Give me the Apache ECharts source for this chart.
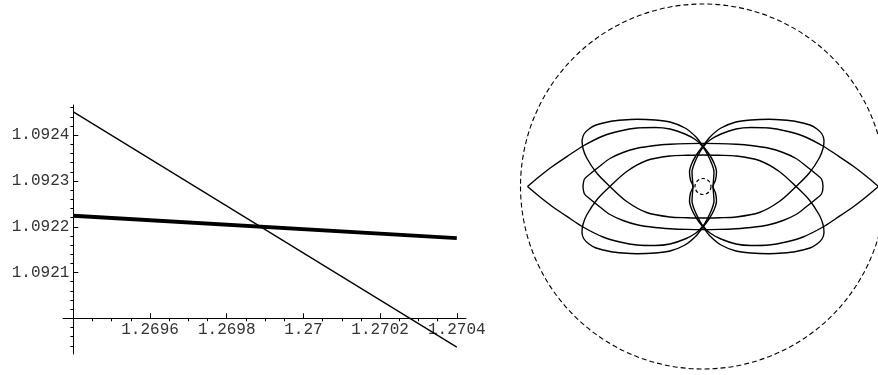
<!DOCTYPE html>
<html>
<head>
<meta charset="utf-8">
<script src="https://cdn.jsdelivr.net/npm/echarts@6/dist/echarts.min.js"></script>
<style>
html,body{margin:0;padding:0;background:#fff;}
#main{width:878px;height:375px;}
</style>
</head>
<body>
<div id="main"></div>
<script>
// left plot: two lines, axes cross at (xOrigin, yOrigin)
var xOrigin = 1.2694;
var yOrigin = 1.0920;
var lineX = [1.2694, 1.2704];
var thinY = [1.092451, 1.091937];
var thickY = [1.092224, 1.092175];

var xTickValues = [1.2696, 1.2698, 1.2700, 1.2702, 1.2704];
var xTickLabels = ['1.2696', '1.2698', '1.27', '1.2702', '1.2704'];
var xMinorValues = [1.26945, 1.2695, 1.26955, 1.26965, 1.2697, 1.26975, 1.26985, 1.2699, 1.26995,
	1.27005, 1.2701, 1.27015, 1.27025, 1.2703, 1.27035];
var yTickValues = [1.0921, 1.0922, 1.0923, 1.0924];
var yTickLabels = ['1.0921', '1.0922', '1.0923', '1.0924'];
var yMinorValues = [1.09194, 1.09196, 1.09198, 1.09202, 1.09204, 1.09206, 1.09208, 1.09212, 1.09214,
	1.09216, 1.09218, 1.09222, 1.09224, 1.09226, 1.09228, 1.09232, 1.09234, 1.09236, 1.09238,
	1.09242, 1.09244, 1.09246];

// right plot: curves, pixels from the centre, y up
var curveA = [[-121,46],[-119,52.5],[-114,57.5],[-107,61.5],[-93,65],[-80,66.5],[-66,67.2],[-48,66.5],[-33,64.5],[-18,58.5],[-7,49.5],[0,40.5],
	[6,32.5],[11,23.5],[13.5,14.5],[12.5,6.5],[10,0],[12.5,-6.5],[13.5,-14.5],[11,-23.5],[6,-32.5],[0,-40.5],
	[-7,-49.5],[-18,-58.5],[-33,-64.5],[-48,-66.5],[-66,-67.2],[-80,-66.5],[-93,-65],[-107,-61.5],[-114,-57.5],[-119,-52.5],[-121,-46],[-120,-38],
	[-116.3,-28.5],[-106.3,-13.5],[-93,0],[-76.3,15],[-56.3,26],[-33,30.5],[-16,31.2],[0,31.5],[16,31.2],[33,30.5],[56.3,26],[76.3,15],[93,0],[106.3,-13.5],[116.3,-28.5],[120,-38],[121,-46],
	[119,-52.5],[114,-57.5],[107,-61.5],[93,-65],[80,-66.5],[66,-67.2],[48,-66.5],[33,-64.5],[18,-58.5],[7,-49.5],[0,-40.5],
	[-6,-32.5],[-11,-23.5],[-13.5,-14.5],[-12.5,-6.5],[-10,0],[-12.5,6.5],[-13.5,14.5],[-11,23.5],[-6,32.5],[0,40.5],
	[7,49.5],[18,58.5],[33,64.5],[48,66.5],[66,67.2],[80,66.5],[93,65],[107,61.5],[114,57.5],[119,52.5],[121,46],[120,38],
	[116.3,28.5],[106.3,13.5],[93,0],[76.3,-15],[56.3,-26],[33,-30.5],[16,-31.2],[0,-31.5],[-16,-31.2],[-33,-30.5],[-56.3,-26],[-76.3,-15],[-93,0],[-106.3,13.5],[-116.3,28.5],[-120,38],[-121,46]];

var lensLeft = [[-175.5,0],[-163,10.5],[-150,20.5],[-133,32],[-120,40.5],[-100,50.5],[-83,55.5],[-66,58.5],[-48,59],[-33,57.5],[-18,52.5],[-7,46.5],[0,39.5],
	[4.5,32],[8.5,23.5],[11,14.5],[10.5,6.5],[10,0],[10.5,-6.5],[11,-14.5],[8.5,-23.5],[4.5,-32],[0,-39.5],
	[-7,-46.5],[-18,-52.5],[-33,-57.5],[-48,-59],[-66,-58.5],[-83,-55.5],[-100,-50.5],[-120,-40.5],[-133,-32],[-150,-20.5],[-163,-10.5],[-175.5,0]];

var lensRight = [[175.5,0],[163,10.5],[150,20.5],[133,32],[120,40.5],[100,50.5],[83,55.5],[66,58.5],[48,59],[33,57.5],[18,52.5],[7,46.5],[0,39.5],
	[-4.5,32],[-8.5,23.5],[-11,14.5],[-10.5,6.5],[-10,0],[-10.5,-6.5],[-11,-14.5],[-8.5,-23.5],[-4.5,-32],[0,-39.5],
	[7,-46.5],[18,-52.5],[33,-57.5],[48,-59],[66,-58.5],[83,-55.5],[100,-50.5],[120,-40.5],[133,-32],[150,-20.5],[163,-10.5],[175.5,0]];

var middleLoop = [[-120,0],[-118.5,7.5],[-113,12.5],[-103,20.5],[-93,28],[-80,34],[-66,38.2],[-48,41],[-33,42.2],[-16,42.9],[0,43.1],
	[16,42.9],[33,42.2],[48,41],[66,38.2],[80,34],[93,28],[103,20.5],[113,12.5],[118.5,7.5],[120,0],
	[118.5,-7.5],[113,-12.5],[103,-20.5],[93,-28],[80,-34],[66,-38.2],[48,-41],[33,-42.2],[16,-42.9],[0,-43.1],
	[-16,-42.9],[-33,-42.2],[-48,-41],[-66,-38.2],[-80,-34],[-93,-28],[-103,-20.5],[-113,-12.5],[-118.5,-7.5],[-120,0]];

var outerRadius = 182.5;
var innerRadius = 8;

// shift to units of 1e-4 from the crossing point so the axes can sit on zero
function sx(v){ return Math.round((v - xOrigin) * 1e4 * 1e6) / 1e6; }
function sy(v){ return Math.round((v - yOrigin) * 1e4 * 1e6) / 1e6; }
function pick(vals, labels, conv){
	return function(v){
		for(var i = 0; i < vals.length; i++){
			if(Math.abs(conv(vals[i]) - v) < 1e-4){ return labels[i]; }
		}
		return '';
	};
}

var black = '#000';
var labelFont = {fontFamily:'Liberation Mono', fontSize:16, color:'#333'};
var XMIN = -0.27, XMAX = 10.24, YMIN = -0.78, YMAX = 4.66;

var chart = echarts.init(document.getElementById('main'));
var option = {
	animation:false,
	backgroundColor:'#fff',
	grid:[
		{left:63, right:412, top:105, bottom:21, outerBoundsMode:'none'},
		{left:520, top:4, width:358, height:365, outerBoundsMode:'none'}
	],
	polar:[
		{center:[703, 186.5], radius:outerRadius},
		{center:[703, 186.5], radius:innerRadius}
	],
	angleAxis:[
		{polarIndex:0, axisLine:{lineStyle:{color:black, width:1.1, type:[5,3]}}, axisTick:{show:false}, axisLabel:{show:false}, splitLine:{show:false}},
		{polarIndex:1, axisLine:{lineStyle:{color:black, width:1.2, type:[3.5,2.5]}}, axisTick:{show:false}, axisLabel:{show:false}, splitLine:{show:false}}
	],
	radiusAxis:[
		{polarIndex:0, show:false},
		{polarIndex:1, show:false}
	],
	xAxis:[
		{
			type:'value', gridIndex:0, min:XMIN, max:XMAX,
			axisLine:{onZero:true, onZeroAxisIndex:0, lineStyle:{color:black, width:1}},
			axisTick:{inside:true, length:5, customValues:xTickValues.map(sx), lineStyle:{color:black}},
			axisLabel:{show:false},
			splitLine:{show:false}
		},
		{
			type:'value', gridIndex:0, min:XMIN, max:XMAX,
			axisLine:{show:false, onZero:true, onZeroAxisIndex:0},
			axisTick:{inside:true, length:3, customValues:xMinorValues.map(sx), lineStyle:{color:black}},
			axisLabel:{show:false},
			splitLine:{show:false}
		},
		{
			// labels only, moved up onto the crossing axis
			type:'value', gridIndex:0, min:XMIN, max:XMAX, position:'bottom', offset:-35.7,
			axisLine:{show:false, onZero:false},
			axisTick:{show:false},
			axisLabel:{customValues:xTickValues.map(sx), margin:3, formatter:pick(xTickValues, xTickLabels, sx),
				fontFamily:labelFont.fontFamily, fontSize:labelFont.fontSize, color:labelFont.color},
			splitLine:{show:false}
		},
		{type:'value', gridIndex:1, min:-183, max:175, show:false}
	],
	yAxis:[
		{
			type:'value', gridIndex:0, min:YMIN, max:YMAX,
			axisLine:{onZero:true, onZeroAxisIndex:0, lineStyle:{color:black, width:1}},
			axisTick:{inside:true, length:5, customValues:yTickValues.map(sy), lineStyle:{color:black}},
			axisLabel:{show:false},
			splitLine:{show:false}
		},
		{
			type:'value', gridIndex:0, min:YMIN, max:YMAX,
			axisLine:{show:false, onZero:true, onZeroAxisIndex:0},
			axisTick:{inside:true, length:3, customValues:yMinorValues.map(sy), lineStyle:{color:black}},
			axisLabel:{show:false},
			splitLine:{show:false}
		},
		{
			type:'value', gridIndex:0, min:YMIN, max:YMAX, position:'left', offset:-10.35,
			axisLine:{show:false, onZero:false},
			axisTick:{show:false},
			axisLabel:{customValues:yTickValues.map(sy), margin:4, formatter:pick(yTickValues, yTickLabels, sy),
				fontFamily:labelFont.fontFamily, fontSize:labelFont.fontSize, color:labelFont.color},
			splitLine:{show:false}
		},
		{type:'value', gridIndex:1, min:-182.5, max:182.5, show:false}
	],
	series:[
		{
			type:'line', xAxisIndex:0, yAxisIndex:0, showSymbol:false, silent:true, clip:false,
			lineStyle:{color:black, width:1.3},
			data:lineX.map(function(x, i){ return [sx(x), sy(thinY[i])]; })
		},
		{
			type:'line', xAxisIndex:0, yAxisIndex:0, showSymbol:false, silent:true, clip:false,
			lineStyle:{color:black, width:3.8},
			data:lineX.map(function(x, i){ return [sx(x), sy(thickY[i])]; })
		}
	]
};

[curveA, lensLeft, lensRight, middleLoop].forEach(function(pts){
	option.series.push({
		type:'line', xAxisIndex:3, yAxisIndex:3, showSymbol:false, silent:true, smooth:0.3,
		lineStyle:{color:black, width:1.4},
		data:pts
	});
});

chart.setOption(option);
</script>
</body>
</html>
